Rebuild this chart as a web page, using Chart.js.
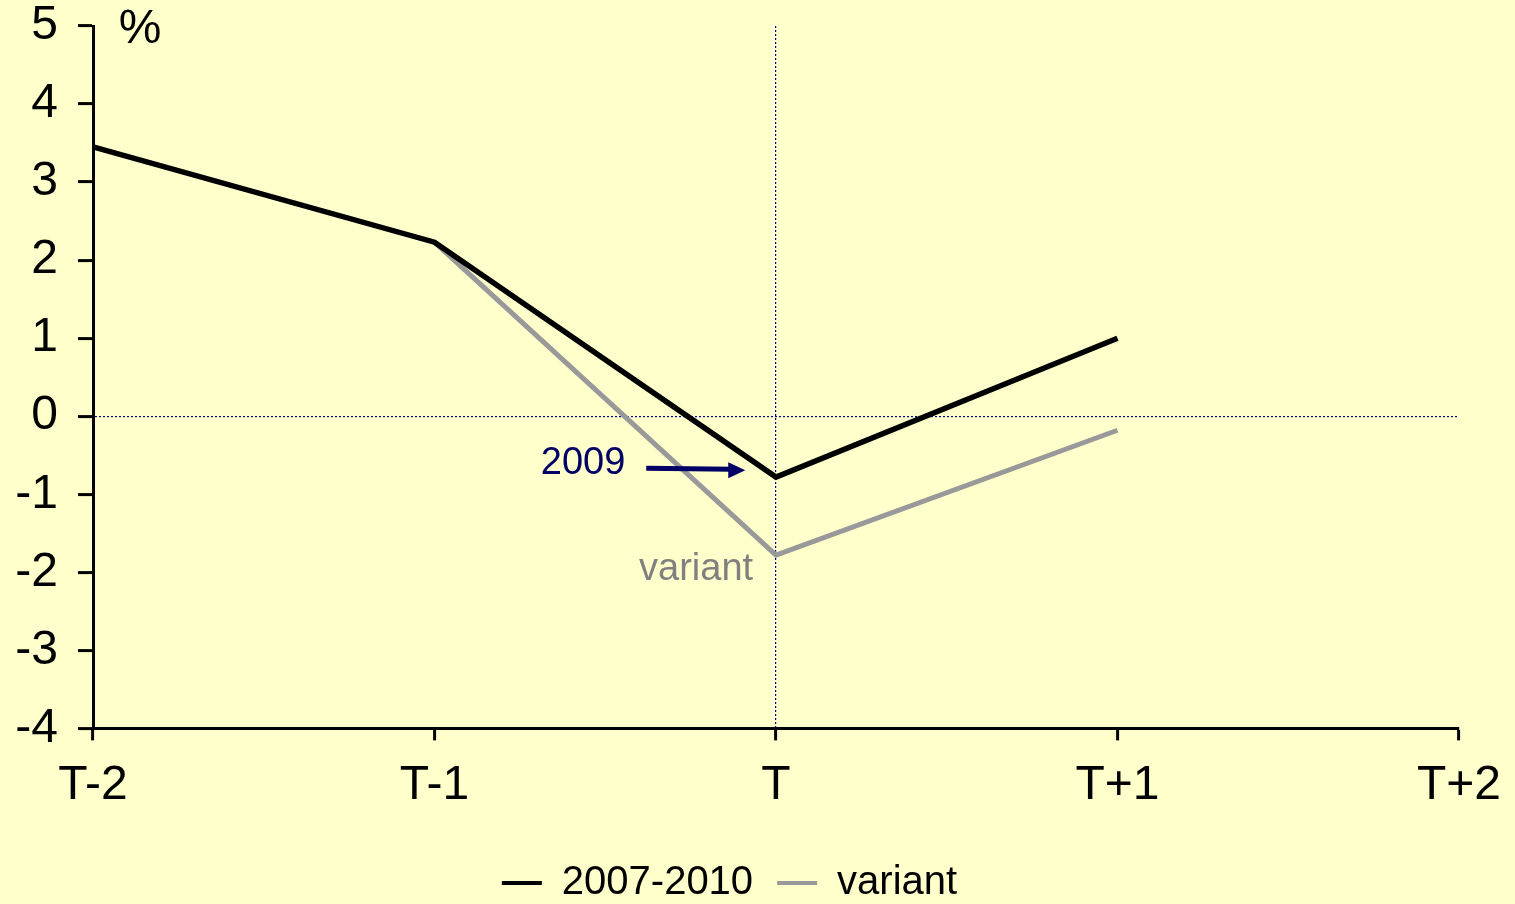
<!DOCTYPE html>
<html>
<head>
<meta charset="utf-8">
<script src="https://cdn.jsdelivr.net/npm/chart.js@4"></script>
<style>
  html, body { margin: 0; padding: 0; background: #FFFFCC; overflow: hidden; }
  canvas { display: block; }
</style>
</head>
<body>
<canvas id="ChartGrowth" width="1515" height="904"></canvas>
<script>
// categories and values
var periods = ["T-2", "T-1", "T", "T+1", "T+2"];
var mainSeries = [3.45, 2.23, -0.78, 1.0, null];
var variantSeries = [null, 2.23, -1.78, -0.18, null];
var yMin = -4;
var yMax = 5;

var FONT = "'Liberation Sans', Arial, sans-serif";

// background + annotation texts / arrow
var decorations = {
    id: 'decorations',
    beforeDraw: function (chart) {
        var ctx = chart.ctx;
        ctx.save();
        ctx.fillStyle = "#FFFFCC";
        ctx.fillRect(0, 0, chart.width, chart.height);
        ctx.restore();
    },
    afterDatasetsDraw: function (chart) {
        var ctx = chart.ctx;
        var xs = chart.scales.x, ys = chart.scales.y;
        ctx.save();
        ctx.textAlign = "center";
        ctx.textBaseline = "middle";

        // unit label
        ctx.fillStyle = "#000000";
        ctx.font = "48px " + FONT;
        ctx.fillText("%", xs.getPixelForValue(0.138), ys.getPixelForValue(4.95));

        // 2009 label + arrow
        ctx.fillStyle = "#000066";
        ctx.font = "38px " + FONT;
        ctx.fillText("2009", xs.getPixelForValue(1.435), ys.getPixelForValue(-0.6));

        var ax1 = xs.getPixelForValue(1.62), ax2 = xs.getPixelForValue(1.91);
        var ay = ys.getPixelForValue(-0.68);
        ctx.strokeStyle = "#000066";
        ctx.lineWidth = 5;
        ctx.beginPath();
        ctx.moveTo(ax1, ay - 1);
        ctx.lineTo(ax2 - 14, ay);
        ctx.stroke();
        ctx.beginPath();
        ctx.moveTo(ax2, ay + 1);
        ctx.lineTo(ax2 - 17, ay - 7);
        ctx.lineTo(ax2 - 17, ay + 9);
        ctx.closePath();
        ctx.fill();

        // variant label
        ctx.fillStyle = "#808080";
        ctx.fillText("variant", xs.getPixelForValue(1.766), ys.getPixelForValue(-1.97));
        ctx.restore();
    }
};

new Chart(document.getElementById("ChartGrowth"), {
    type: 'line',
    data: {
        labels: periods,
        datasets: [{
            label: "2007-2010",
            data: mainSeries,
            borderColor: "#000000",
            backgroundColor: "#000000",
            borderWidth: 5.5,
            pointRadius: 0,
            tension: 0,
            fill: false,
            spanGaps: false
        }, {
            label: "variant",
            data: variantSeries,
            borderColor: "#999999",
            backgroundColor: "#999999",
            borderWidth: 5,
            pointRadius: 0,
            tension: 0,
            fill: false,
            spanGaps: false
        }]
    },
    options: {
        responsive: false,
        animation: false,
        layout: {
            padding: { top: 26, right: 56, left: 0, bottom: -9 }
        },
        scales: {
            x: {
                offset: false,
                grid: {
                    color: function (c) { return c.index === 2 ? "#000099" : "rgba(0,0,0,0)"; },
                    lineWidth: 1.2,
                    tickColor: "#000000",
                    tickWidth: 3,
                    tickLength: 12
                },
                border: { color: "#000000", width: 3, dash: [2, 2] },
                ticks: {
                    color: "#000000",
                    font: { family: FONT, size: 48 },
                    padding: 17,
                    maxRotation: 0,
                    autoSkip: false
                },
                afterFit: function (scale) {
                    scale.height += 7;
                    scale.paddingLeft = 0;
                    scale.paddingRight = 0;
                }
            },
            y: {
                min: yMin,
                max: yMax,
                grid: {
                    color: function (c) { return c.tick && c.tick.value === 0 ? "#000099" : "rgba(0,0,0,0)"; },
                    lineWidth: 1.2,
                    tickColor: "#000000",
                    tickWidth: 3,
                    tickLength: 15
                },
                border: { color: "#000000", width: 3, dash: [2, 2] },
                ticks: {
                    stepSize: 1,
                    color: "#000000",
                    font: { family: FONT, size: 48 },
                    padding: 20
                },
                afterFit: function (scale) {
                    scale.width = 93;
                    scale.paddingTop = 0;
                    scale.paddingBottom = 0;
                }
            }
        },
        plugins: {
            title: { display: false },
            tooltip: { enabled: false },
            legend: {
                display: true,
                position: 'bottom',
                labels: {
                    color: "#000000",
                    font: { family: FONT, size: 40 },
                    boxWidth: 40,
                    boxHeight: 4,
                    padding: 24,
                    generateLabels: function (chart) {
                        var items = Chart.defaults.plugins.legend.labels.generateLabels(chart);
                        items.forEach(function (it) { it.lineWidth = 0; });
                        return items;
                    }
                }
            }
        }
    },
    plugins: [decorations]
});
</script>
</body>
</html>
